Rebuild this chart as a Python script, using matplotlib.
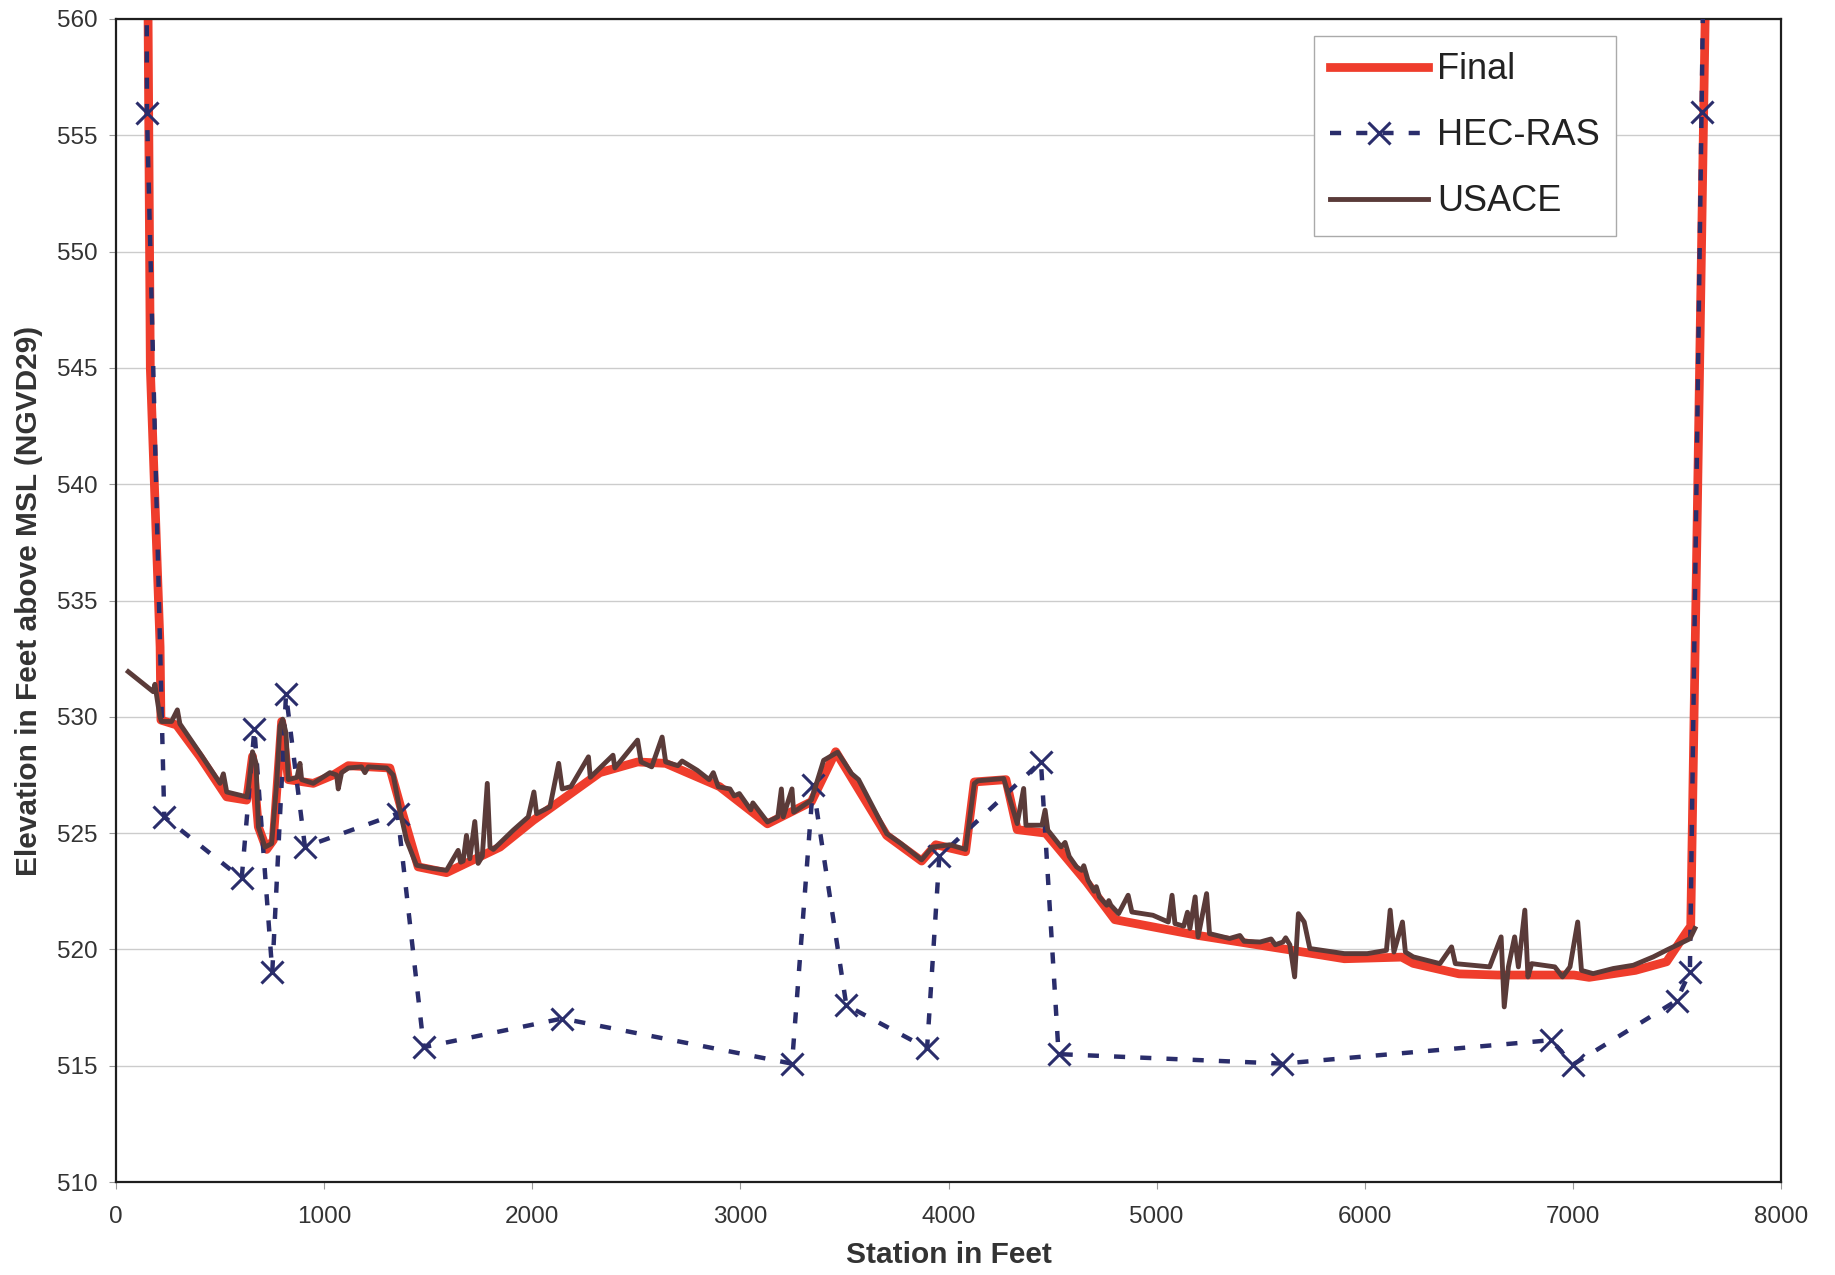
"""
Cross-section profile: Final vs HEC-RAS vs USACE ground elevations.
"""

import matplotlib

matplotlib.use("Agg")
import matplotlib.pyplot as plt

# Final profile (red, smooth)
final_x = [150, 165, 212, 216, 291, 404, 532, 628, 656, 684, 724, 756, 796,
           828, 948, 1044, 1116, 1316, 1372, 1452, 1588, 1845, 2005, 2325,
           2506, 2641, 2900, 3130, 3341, 3458, 3703, 3871, 3939, 4082, 4124,
           4276, 4330, 4467, 4663, 4799, 5200, 5626, 5902, 6177, 6233, 6453,
           6637, 7005, 7078, 7300, 7450, 7546, 7566, 7646]
final_y = [566, 545, 533, 529.86, 529.65, 528.28, 526.56, 526.42, 528.3,
           525.27, 524.3, 524.7, 529.8, 527.3, 527.14, 527.5, 527.9, 527.8,
           526.0, 523.55, 523.3, 524.4, 525.55, 527.6, 528.06, 528.0, 527.0,
           525.4, 526.35, 528.5, 524.9, 523.8, 524.5, 524.2, 527.2, 527.3,
           525.15, 525.0, 522.9, 521.28, 520.6, 520.0, 519.6, 519.67, 519.4,
           518.95, 518.9, 518.9, 518.8, 519.1, 519.47, 520.75, 521.0, 566]

# HEC-RAS cross-section points (dashed with x markers)
hec_x = [146, 149, 232, 604, 665, 751, 817, 908, 1353, 1479, 2144, 3248,
         3349, 3509, 3897, 3956, 4444, 4529, 5604, 6896, 7000, 7498, 7562,
         7618, 7633]
hec_y = [566, 555.95, 525.7, 523.05, 529.47, 519.03, 530.96, 524.41, 525.84,
         515.8, 517.03, 515.09, 527.06, 517.6, 515.75, 524.0, 528.07, 515.5,
         515.09, 516.1, 515.05, 517.8, 519.03, 556.0, 566]

# USACE survey (brown, noisy)
usace_x = [59, 179, 187, 211, 219, 267, 295, 307, 404, 500, 516, 532, 628,
           636, 656, 673, 684, 716, 748, 772, 788, 801, 817, 828, 870, 884,
           892, 948, 1028, 1060, 1068, 1084, 1116, 1180, 1196, 1212, 1300,
           1332, 1364, 1396, 1444, 1524, 1588, 1644, 1656, 1668, 1684, 1700,
           1724, 1740, 1760, 1784, 1797, 1813, 1909, 1981, 2008, 2021, 2085,
           2127, 2144, 2186, 2270, 2279, 2388, 2397, 2506, 2523, 2574, 2624,
           2641, 2700, 2720, 2793, 2850, 2870, 2894, 2950, 2970, 2995, 3050,
           3060, 3130, 3180, 3197, 3206, 3248, 3256, 3341,
           3400, 3467, 3534, 3568, 3703, 3770, 3871, 3922, 4006, 4082, 4124,
           4141, 4265, 4330, 4361, 4372, 4449, 4464, 4477, 4541, 4560, 4580,
           4615, 4640, 4650, 4670, 4700, 4710, 4725, 4760, 4770, 4780, 4817,
           4863, 4881, 4982, 5056, 5074, 5088, 5130, 5148,
           5160, 5185, 5199, 5240, 5254, 5350, 5400, 5420, 5497, 5550, 5570,
           5607, 5620, 5640, 5663, 5681, 5709,
           5736, 5902, 6012, 6104, 6122, 6140, 6181, 6195, 6233, 6361, 6417,
           6435, 6600, 6655, 6670, 6690, 6720, 6738, 6769, 6784, 6802, 6913,
           6950, 6986, 7023, 7041, 7097, 7194, 7290, 7386, 7450, 7530, 7562,
           7586]
usace_y = [531.94, 531.08, 531.4, 530.0, 529.8, 529.8, 530.3, 529.7, 528.43,
           527.14, 527.55, 526.77, 526.56, 526.92, 528.5, 528.0, 525.27, 524.4,
           524.55, 527.14, 529.6, 529.9, 529.3, 527.3, 527.4, 528.0, 527.3,
           527.14, 527.6, 527.5, 526.9, 527.6, 527.8, 527.85, 527.6, 527.85,
           527.8, 527.5, 525.99, 524.7, 523.62, 523.48, 523.4, 524.26, 523.75,
           523.8, 524.9, 523.9, 525.5, 523.7, 524.0, 527.14, 524.4, 524.3,
           525.13, 525.7, 526.77, 525.84, 526.13, 528.0, 526.9, 527.0, 528.28,
           527.4, 528.35, 527.8, 529.0, 528.06, 527.85, 529.13,
           528.06, 527.9, 528.1, 527.7, 527.3, 527.6, 526.99, 526.9, 526.6,
           526.7, 526.0, 526.3, 525.48, 525.7, 526.9, 525.7, 526.9, 525.9,
           526.42,
           528.13, 528.48, 527.56, 527.3, 524.98, 524.56, 523.85, 524.4, 524.5,
           524.3, 527.13, 527.25, 527.35, 525.41, 526.92, 525.34, 525.34,
           525.99, 525.13, 524.41, 524.6, 524.0, 523.55, 523.4, 523.6, 522.98,
           522.5, 522.7, 522.26, 521.9, 522.1, 521.9, 521.54,
           522.33, 521.61, 521.47, 521.18, 522.33, 521.11, 521.0, 521.6, 520.9,
           522.26, 520.54, 522.4, 520.68, 520.47, 520.6, 520.35, 520.32,
           520.45, 520.2, 520.32, 520.5, 520.2, 518.82,
           521.54, 521.18, 520.04, 519.82, 519.82, 519.96, 521.69, 519.89,
           521.18, 519.89, 519.68, 519.39, 520.11, 519.39, 519.25, 520.54,
           517.53, 519.25, 520.54, 519.25, 521.69, 518.82, 519.39, 519.25,
           518.82, 519.25, 521.18, 519.1, 518.96, 519.18, 519.32, 519.68,
           519.97, 520.32, 520.46, 520.9]

x_ticks = list(range(0, 8001, 1000))
y_ticks = list(range(510, 561, 5))

plt.rcParams["font.family"] = ["Liberation Sans", "DejaVu Sans"]

fig = plt.figure(figsize=(18.35, 12.75), dpi=100)
ax = fig.add_axes([0.0632, 0.0729, 0.9074, 0.9122])

ax.plot(final_x, final_y, color="#ef3d2c", linewidth=6.3,
        solid_joinstyle="round", label="Final", zorder=2)
ax.plot(hec_x, hec_y, color="#2a2d6b", linewidth=3.2, dashes=(2.5, 3.4),
        marker="x", markersize=16, markeredgewidth=2.2, label="HEC-RAS",
        zorder=3)
ax.plot(usace_x, usace_y, color="#5a3b39", linewidth=3.5,
        solid_joinstyle="round", label="USACE", zorder=4)

ax.set_xlim(0, 8000)
ax.set_ylim(510, 560)
ax.set_xticks(x_ticks)
ax.set_yticks(y_ticks)
ax.grid(True, axis="y", color="#cccccc", linewidth=1.0)
ax.set_axisbelow(True)

for spine in ax.spines.values():
    spine.set_linewidth(1.6)
    spine.set_color("#1e1e1e")

ax.tick_params(axis="both", labelsize=17.5, labelcolor="#333333",
               color="#999999", direction="out", length=5)
ax.tick_params(axis="y", pad=8)
ax.tick_params(axis="x", pad=12)

ax.set_xlabel("Station in Feet", fontsize=21.5, fontweight="bold",
              color="#333333", va="center")
ax.xaxis.set_label_coords(0.5, -0.0628)
ax.set_ylabel("Elevation in Feet above MSL (NGVD29)", fontsize=21.5,
              fontweight="bold", color="#333333", va="center")
ax.yaxis.set_label_coords(-0.052, 0.5)

leg = ax.legend(loc="upper left", bbox_to_anchor=(0.7195, 0.9854),
                borderaxespad=0, fontsize=26, handlelength=2.7,
                handletextpad=0.25, borderpad=0.45, labelspacing=0.86,
                fancybox=False, framealpha=1, edgecolor="#aaaaaa")
leg.get_frame().set_linewidth(1.0)
for text in leg.get_texts():
    text.set_color("#222222")

fig.savefig("out.png", dpi=100)
plt.close(fig)
